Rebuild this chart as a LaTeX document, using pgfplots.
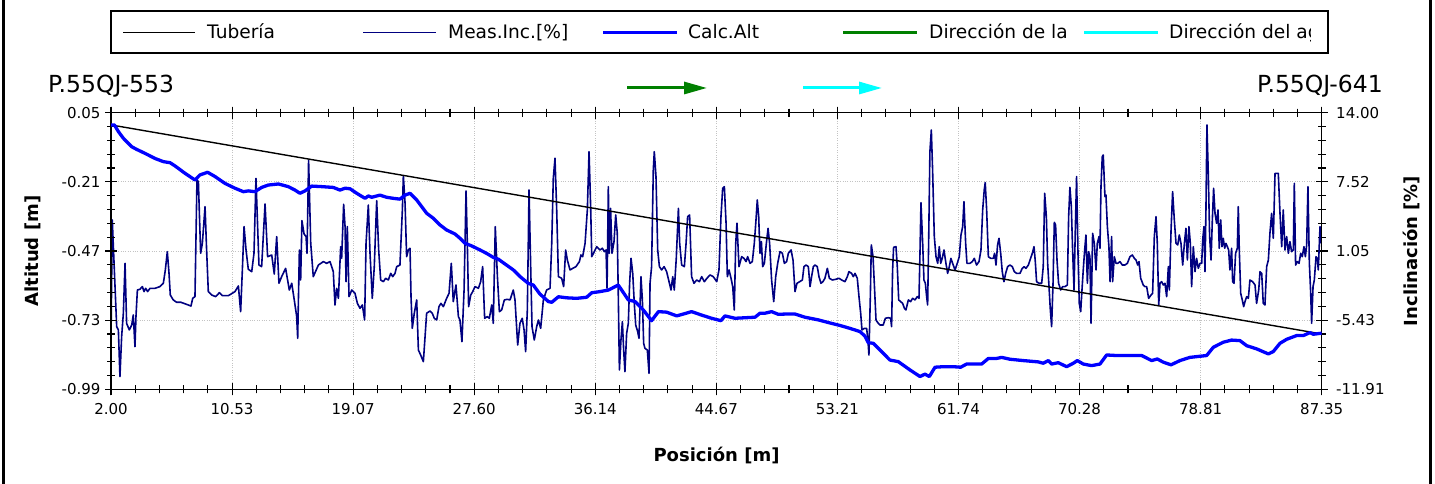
\documentclass[border=0pt]{standalone}
\usepackage{fontspec}
\setmainfont{DejaVu Sans}
\usepackage{pgfplots}
\usepackage{pgfplotstable}
\pgfplotsset{compat=1.18}
\usetikzlibrary{arrows.meta}

\definecolor{incnavy}{RGB}{0,0,128}
\definecolor{altblue}{RGB}{0,0,255}
\definecolor{dirgreen}{RGB}{0,128,0}
\definecolor{dircyan}{RGB}{0,255,255}
\definecolor{gridgray}{RGB}{195,195,195}

% measured inclination [%] along the pipe
\pgfplotstableread{
x inc
2.00 -7.29
2.09 3.95
2.40 -6.04
2.52 -6.35
2.63 -10.72
2.75 -6.98
2.87 -4.79
2.99 -0.11
3.10 -5.73
3.29 -6.35
3.46 -5.89
3.57 -4.95
3.69 -7.92
3.76 -5.10
3.86 -2.61
4.04 -2.54
4.21 -2.29
4.33 -2.76
4.44 -2.45
4.58 -2.76
4.75 -2.45
5.10 -2.45
5.45 -2.29
5.69 -1.98
5.83 -0.73
5.97 0.98
6.09 -1.05
6.18 -3.08
6.39 -3.54
6.63 -3.76
6.93 -3.76
7.26 -3.92
7.64 -4.11
7.76 -3.39
7.92 -3.23
8.06 7.70
8.16 7.54
8.32 0.83
8.44 1.76
8.63 5.20
8.74 1.14
8.86 -2.76
9.10 -3.08
9.38 -3.23
9.64 -2.86
9.85 -3.14
10.27 -3.14
10.74 -2.76
10.98 -2.23
11.14 -4.64
11.26 -0.73
11.38 3.33
11.52 1.14
11.68 -0.67
11.92 -0.89
12.08 0.83
12.22 7.85
12.43 -0.27
12.62 -0.42
12.86 5.45
13.04 0.51
13.33 0.67
13.51 -1.11
13.68 2.39
13.84 -1.98
14.03 -1.36
14.31 -0.58
14.57 -2.61
14.74 -1.98
14.92 -3.54
15.09 -5.10
15.16 -7.13
15.28 1.14
15.37 -1.67
15.46 3.89
15.61 2.64
15.75 2.39
15.82 0.83
15.93 9.57
16.08 1.76
16.26 -1.36
16.62 -0.27
16.97 0.05
17.20 -0.11
17.44 0.05
17.67 -0.89
17.79 -4.01
17.91 -2.45
18.03 -3.39
18.19 1.45
18.26 0.36
18.40 5.42
18.50 3.33
18.57 -1.83
18.66 3.33
18.78 -3.23
18.97 -2.61
19.20 -2.92
19.37 -3.86
19.55 -4.32
19.72 -4.01
19.88 -5.42
19.98 1.76
20.14 5.35
20.26 0.83
20.42 -3.39
20.56 -0.42
20.73 5.76
20.87 1.14
21.01 -1.67
21.20 -1.83
21.36 -1.51
21.55 -1.67
21.72 -1.05
21.86 -1.36
22.02 -1.05
22.14 -0.42
22.37 -0.27
22.54 4.89
22.61 8.10
22.73 5.51
22.84 0.51
22.96 1.14
23.08 1.30
23.15 -3.23
23.24 -6.20
23.38 -4.79
23.55 -3.54
23.67 -8.23
23.83 -8.70
24.02 -9.32
24.14 -6.98
24.25 -4.79
24.49 -4.57
24.65 -4.79
24.79 -5.26
24.96 -5.42
25.12 -4.17
25.26 -3.86
25.43 -4.17
25.66 -3.39
25.83 -2.92
25.99 -0.11
26.13 -3.70
26.32 -2.14
26.49 -5.10
26.60 -5.42
26.74 -7.45
26.89 -2.61
27.03 6.67
27.12 1.76
27.21 -4.17
27.36 -3.08
27.50 -2.76
27.66 -2.29
27.90 -2.45
28.06 -1.83
28.20 -0.42
28.34 -5.26
28.53 -5.10
28.67 -5.26
28.84 -4.01
28.95 -5.73
29.09 3.33
29.24 -1.36
29.38 -4.64
29.54 -4.48
29.73 -3.54
29.94 -3.48
30.13 -3.54
30.36 -2.61
30.48 -3.54
30.67 -7.76
30.83 -5.73
30.99 -5.26
31.12 -6.35
31.23 -8.38
31.35 -4.48
31.47 6.76
31.56 1.14
31.68 -6.04
31.84 -7.29
32.01 -6.04
32.13 -5.42
32.29 -6.20
32.48 -3.54
32.71 -2.61
32.95 -2.45
33.07 1.76
33.18 7.85
33.30 9.73
33.42 4.89
33.54 -1.36
33.77 -1.51
33.91 -2.29
34.05 1.14
34.17 0.20
34.36 -0.73
34.55 -0.58
34.78 -0.42
35.02 0.05
35.13 0.67
35.25 0.51
35.42 1.76
35.58 4.89
35.70 10.35
35.82 4.89
35.89 0.51
36.07 0.98
36.24 1.45
36.47 1.14
36.64 1.30
36.78 0.98
36.90 1.14
36.97 -2.45
37.06 7.07
37.13 0.83
37.22 5.04
37.32 0.83
37.46 1.92
37.58 4.42
37.69 2.70
37.76 -2.92
37.84 -10.10
37.95 -7.29
38.05 -5.57
38.14 -8.23
38.23 -10.26
38.35 -6.67
38.47 -5.73
38.56 -1.98
38.66 0.36
38.78 -1.05
38.89 -3.86
38.99 -5.89
39.13 -6.51
39.22 -7.13
39.29 -4.32
39.36 -1.36
39.46 -3.54
39.55 -7.60
39.64 -8.07
39.81 -8.23
39.93 -10.41
40.00 -1.98
40.11 -0.42
40.23 8.63
40.30 10.35
40.42 8.01
40.54 1.14
40.66 -0.42
40.82 -0.73
40.99 -0.42
41.17 -0.89
41.34 -1.83
41.48 -2.61
41.60 -1.36
41.71 -2.61
41.85 0.36
42.00 5.04
42.09 1.76
42.23 -0.27
42.42 -0.42
42.54 1.76
42.65 4.26
42.79 4.42
42.93 -1.36
43.10 -1.98
43.29 -1.67
43.48 -1.83
43.64 -1.36
43.83 -1.83
44.01 -1.51
44.23 -1.20
44.46 -1.36
44.70 -1.83
44.86 -0.73
45.00 4.26
45.12 6.92
45.24 7.07
45.36 3.64
45.45 -1.36
45.57 -0.73
45.71 -1.51
45.83 -2.29
45.94 -4.48
46.04 1.76
46.13 3.64
46.27 -0.42
46.46 0.51
46.62 0.36
46.77 0.05
46.88 0.51
47.05 -0.11
47.21 0.05
47.35 1.76
47.47 3.95
47.56 5.82
47.66 4.26
47.75 0.83
47.85 1.92
47.94 -0.42
48.06 -0.11
48.20 1.76
48.32 3.17
48.43 1.76
48.57 -1.67
48.72 -3.70
48.86 -1.36
49.00 -0.11
49.16 0.98
49.33 0.83
49.47 -0.11
49.63 0.05
49.75 0.83
49.94 1.14
50.08 0.20
50.22 -2.76
50.36 -1.98
50.55 -1.83
50.74 -1.67
50.85 -0.42
51.00 -0.27
51.16 -0.42
51.28 -2.29
51.39 -1.36
51.51 -0.42
51.63 -0.27
51.79 -0.42
51.91 -1.36
52.05 -1.98
52.19 -1.83
52.33 -1.51
52.50 -0.58
52.64 -1.51
52.85 -1.67
53.09 -1.61
53.32 -1.51
53.51 -1.67
53.74 -1.83
53.91 -1.36
54.02 -0.89
54.21 -1.05
54.33 -1.36
54.45 -1.05
54.61 -1.51
54.73 -3.23
54.85 -4.79
54.94 -6.35
55.11 -6.20
55.27 -6.20
55.36 -7.29
55.43 -8.70
55.53 -3.23
55.60 1.61
55.72 0.51
55.81 -1.98
55.93 -5.42
56.09 -5.73
56.21 -5.89
56.44 -5.89
56.59 -5.26
56.80 -5.20
56.96 -5.26
57.03 -6.04
57.10 -0.73
57.17 1.39
57.34 1.45
57.43 -0.42
57.53 -3.54
57.67 -3.70
57.81 -3.86
57.93 -4.32
58.04 -4.48
58.21 -3.54
58.37 -3.70
58.51 -3.39
58.68 -3.54
58.84 -3.23
58.96 -3.39
59.03 0.83
59.10 5.57
59.22 1.76
59.31 -1.67
59.41 -1.98
59.50 -3.23
59.57 -4.01
59.64 1.76
59.73 10.35
59.83 12.38
59.92 8.63
60.04 2.39
60.16 0.51
60.28 -0.11
60.39 1.45
60.49 -0.11
60.60 0.36
60.72 1.14
60.86 -0.11
60.98 -1.05
61.10 -0.42
61.21 0.36
61.33 -0.11
61.50 -0.73
61.66 -0.11
61.80 0.51
61.92 2.54
62.04 3.33
62.13 5.67
62.25 1.76
62.34 -0.11
62.55 -0.11
62.72 0.05
62.86 0.36
63.02 -0.27
63.19 0.05
63.33 1.14
63.45 4.89
63.56 6.76
63.63 7.45
63.73 4.89
63.85 0.51
64.01 0.36
64.20 0.36
64.29 0.83
64.39 -0.27
64.50 1.61
64.60 2.23
64.72 0.83
64.83 -0.89
64.95 -1.83
65.07 -1.05
65.21 -0.42
65.37 -0.27
65.54 -0.42
65.68 -0.89
65.84 -1.05
66.08 -1.05
66.24 -0.58
66.38 -0.42
66.50 -0.58
66.67 -0.27
66.83 0.36
66.95 0.83
67.07 1.45
67.16 0.05
67.25 -1.83
67.42 -1.98
67.61 -1.98
67.72 -0.42
67.82 6.45
67.94 4.26
68.03 -0.11
68.12 -2.14
68.22 -4.48
68.31 -6.04
68.41 -1.98
68.50 3.73
68.59 3.48
68.69 0.20
68.80 -1.98
68.95 -2.61
69.09 -2.29
69.25 -2.29
69.42 -2.14
69.51 4.26
69.60 7.01
69.70 5.20
69.79 1.14
69.89 -2.61
69.98 3.01
70.07 8.01
70.17 0.83
70.26 -3.86
70.36 -4.64
70.45 -2.61
70.54 -0.73
70.64 1.14
70.73 2.54
70.83 -1.98
70.92 0.98
71.01 0.51
71.09 -5.73
71.20 2.70
71.32 1.76
71.44 -0.73
71.53 1.76
71.65 2.39
71.72 1.30
71.79 7.07
71.88 9.88
71.95 10.04
72.07 6.14
72.14 6.29
72.24 3.33
72.35 1.45
72.43 -1.83
72.54 2.39
72.61 -1.83
72.73 0.51
72.85 -0.11
72.97 -0.11
73.13 0.05
73.29 -0.27
73.48 -0.27
73.65 -0.11
73.83 0.51
74.00 0.67
74.14 0.36
74.26 0.20
74.38 -0.27
74.47 0.05
74.59 -1.51
74.77 -2.14
74.89 -2.29
75.01 -2.29
75.15 -3.39
75.32 -3.08
75.43 -2.92
75.55 2.39
75.67 4.26
75.76 1.76
75.86 -4.01
75.95 -1.98
76.07 -1.83
76.18 -2.14
76.30 -1.98
76.42 -3.23
76.54 -0.42
76.61 -2.61
76.73 3.01
76.84 6.60
76.96 3.95
77.08 1.76
77.20 1.61
77.31 2.54
77.43 1.76
77.55 -0.27
77.67 1.76
77.78 3.17
77.88 0.20
77.99 3.33
78.09 1.76
78.18 -2.29
78.30 1.45
78.42 -0.89
78.53 0.36
78.65 -0.58
78.77 -0.11
78.89 -0.11
78.96 2.08
79.05 3.33
79.12 -0.89
79.19 4.89
79.26 12.85
79.36 8.01
79.45 2.39
79.55 0.20
79.64 3.95
79.73 6.92
79.83 4.57
79.94 3.64
80.04 4.89
80.13 1.30
80.23 3.95
80.32 1.45
80.41 2.23
80.51 1.30
80.60 1.76
80.70 1.45
80.79 1.14
80.88 -0.73
81.00 1.30
81.07 -1.83
81.17 -1.98
81.28 0.83
81.40 1.30
81.47 5.20
81.54 1.14
81.64 -2.92
81.75 -3.54
81.85 -4.17
81.94 -3.70
82.06 -3.23
82.18 -3.39
82.29 -1.67
82.48 -1.83
82.65 -2.14
82.76 -3.86
82.91 -2.61
83.00 -0.89
83.12 -1.05
83.23 -3.86
83.35 -4.01
83.47 -0.42
83.59 0.20
83.70 2.70
83.82 4.57
83.94 2.23
84.06 8.32
84.17 8.32
84.29 8.32
84.41 4.57
84.53 1.45
84.64 4.89
84.76 1.14
84.88 2.39
85.00 0.83
85.11 1.92
85.23 0.98
85.35 1.14
85.42 7.38
85.51 -0.27
85.63 0.05
85.75 -0.11
85.87 0.83
85.98 0.51
86.10 1.45
86.20 0.51
86.29 1.61
86.38 7.07
86.48 -0.11
86.57 -2.76
86.64 -5.73
86.74 -2.29
86.83 -1.67
86.95 0.51
87.04 0.36
87.11 -0.73
87.23 3.33
87.32 1.76
}\measinc

% calculated altitude [m]
\pgfplotstableread{
x alt
2.00 0.004
2.24 0.004
2.52 -0.021
2.87 -0.046
3.10 -0.059
3.46 -0.078
3.81 -0.088
4.40 -0.103
5.10 -0.122
5.69 -0.134
6.16 -0.138
6.51 -0.150
7.22 -0.178
7.92 -0.203
8.27 -0.184
8.81 -0.174
9.33 -0.190
10.04 -0.216
10.74 -0.234
11.33 -0.247
11.68 -0.244
12.15 -0.247
12.62 -0.231
13.09 -0.222
13.80 -0.218
14.50 -0.228
14.97 -0.241
15.32 -0.253
15.68 -0.244
16.15 -0.226
16.85 -0.228
17.67 -0.231
18.14 -0.241
18.50 -0.234
18.85 -0.236
19.32 -0.253
19.91 -0.272
20.14 -0.263
20.38 -0.268
20.96 -0.260
21.43 -0.268
21.90 -0.272
22.37 -0.275
22.73 -0.260
23.08 -0.253
23.55 -0.278
23.90 -0.303
24.25 -0.328
24.72 -0.347
25.19 -0.372
25.66 -0.391
26.25 -0.406
26.60 -0.422
26.96 -0.441
27.43 -0.451
28.01 -0.466
28.48 -0.479
28.95 -0.494
29.31 -0.501
29.78 -0.519
30.36 -0.541
30.83 -0.566
31.42 -0.592
31.77 -0.598
32.24 -0.632
32.83 -0.660
33.07 -0.663
33.54 -0.642
34.12 -0.646
34.83 -0.648
35.53 -0.644
35.89 -0.627
36.43 -0.623
37.06 -0.617
37.76 -0.598
38.47 -0.654
38.94 -0.660
39.53 -0.692
40.11 -0.732
40.59 -0.698
41.17 -0.700
41.88 -0.714
42.35 -0.707
42.93 -0.698
43.64 -0.711
44.34 -0.723
45.00 -0.732
45.28 -0.714
45.99 -0.723
46.69 -0.721
47.40 -0.719
47.75 -0.704
48.10 -0.704
48.57 -0.698
49.04 -0.708
49.63 -0.707
50.22 -0.707
50.92 -0.719
51.86 -0.729
52.57 -0.739
53.39 -0.750
54.10 -0.761
54.80 -0.773
55.15 -0.790
55.39 -0.815
55.74 -0.817
56.21 -0.842
56.91 -0.880
57.50 -0.886
58.32 -0.917
59.03 -0.942
59.38 -0.933
59.69 -0.942
60.09 -0.907
60.68 -0.905
61.38 -0.905
61.90 -0.907
62.32 -0.895
63.38 -0.895
63.85 -0.874
64.43 -0.874
64.79 -0.870
65.38 -0.877
66.31 -0.882
67.37 -0.887
67.72 -0.892
68.08 -0.882
68.31 -0.895
68.78 -0.890
69.37 -0.905
69.84 -0.892
70.12 -0.882
70.54 -0.895
71.13 -0.901
71.72 -0.895
72.19 -0.861
72.89 -0.863
73.83 -0.863
74.66 -0.863
75.36 -0.882
75.76 -0.876
76.18 -0.888
76.73 -0.898
77.36 -0.882
78.06 -0.870
79.24 -0.863
79.71 -0.832
80.41 -0.813
81.00 -0.805
81.59 -0.807
82.06 -0.826
82.76 -0.838
83.59 -0.857
83.94 -0.848
84.41 -0.817
84.88 -0.802
85.58 -0.788
86.05 -0.788
86.52 -0.777
86.76 -0.783
87.35 -0.779
}\calcalt

% pipe profile between the two manholes
\pgfplotstableread{
x alt
2.00 0.004
87.35 -0.782
}\tuberia

\pgfplotsset{
  common/.style={
    at={(111bp,94.7bp)}, anchor=south west,
    scale only axis, width=1210.7bp, height=276.6bp,
    xmin=2, xmax=87.35,
    xtick={2,10.535,19.07,27.605,36.14,44.675,53.21,61.745,70.28,78.815,87.35},
    minor x tick num=4, minor y tick num=4,
    tick align=center, major tick length=12bp, minor tick length=8bp,
    tick style={black, line width=1.1bp},
    axis line style={black, line width=1.3bp},
    tick label style={font=\fontsize{15bp}{18bp}\selectfont},
  }
}

\begin{document}
\begin{tikzpicture}[x=1bp,y=1bp]
\useasboundingbox (0,0) rectangle (1435,484);

% inclination axis (right), carries the grid
\begin{axis}[common,
  ymin=-11.91, ymax=14,
  ytick={-11.91,-5.4325,1.045,7.5225,14},
  yticklabels={-11.91,-5.43,1.05,7.52,14.00},
  ytick pos=right, yticklabel pos=right,
  yticklabel style={xshift=5bp},
  xticklabels={},
  grid=major,
  major grid style={gridgray, dotted, line width=0.9bp},
]
\addplot[incnavy, line width=1.6bp, line join=round] table[x=x, y=inc] {\measinc};
\end{axis}

% altitude axis (left)
\begin{axis}[common,
  ymin=-0.99, ymax=0.05,
  ytick={-0.99,-0.73,-0.47,-0.21,0.05},
  yticklabels={-0.99,-0.73,-0.47,-0.21,0.05},
  ytick pos=left,
  yticklabel style={xshift=-1bp},
  xticklabels={2.00,10.53,19.07,27.60,36.14,44.67,53.21,61.74,70.28,78.81,87.35},
  xticklabel style={yshift=-5bp},
]
\addplot[black, line width=1.4bp] table[x=x, y=alt] {\tuberia};
\addplot[altblue, line width=3.3bp, line join=round] table[x=x, y=alt] {\calcalt};
\end{axis}

% axis titles
\node[rotate=90, font=\fontsize{18bp}{21bp}\selectfont\bfseries] at (33,233) {Altitud [m]};
\node[rotate=90, font=\fontsize{18bp}{21bp}\selectfont\bfseries] at (1411,233) {Inclinación [\%]};
\node[font=\fontsize{18bp}{21bp}\selectfont\bfseries] at (716.5,29) {Posición [m]};

% manhole names
\node[anchor=base west, inner sep=0, font=\fontsize{23.5bp}{27bp}\selectfont] at (48,391) {P.55QJ-553};
\node[anchor=base east, inner sep=0, font=\fontsize{23.5bp}{27bp}\selectfont] at (1383,391) {P.55QJ-641};

% flow direction arrows
\draw[dirgreen, line width=3bp, -{Triangle[length=23bp,width=12bp]}] (627,396) -- (707,396);
\draw[dircyan, line width=3bp, -{Triangle[length=23bp,width=12bp]}] (803,396) -- (882,396);

% legend
\begin{scope}[font=\fontsize{18.6bp}{22bp}\selectfont]
\draw[line width=1.5bp] (111,431) rectangle (1328,473);
\draw[black, line width=1.3bp] (123,451.7) -- (195,451.7);
\node[anchor=base west, inner sep=0] at (207,445) {Tubería};
\draw[incnavy, line width=1.3bp] (363,451.7) -- (436,451.7);
\node[anchor=base west, inner sep=0] at (448,445) {Meas.Inc.[\%]};
\draw[altblue, line width=3bp] (603,451.7) -- (677,451.7);
\node[anchor=base west, inner sep=0] at (688,445) {Calc.Alt};
\draw[dirgreen, line width=3bp] (843,451.7) -- (917,451.7);
\node[anchor=base west, inner sep=0] at (929,445) {Dirección de la};
\draw[dircyan, line width=3bp] (1084,451.7) -- (1158,451.7);
\begin{scope}
\clip (1160,432) rectangle (1310,472);
\node[anchor=base west, inner sep=0] at (1169,445) {Dirección del agua};
\end{scope}
\end{scope}

% outer frame
\draw[line width=3bp] (3,-20) rectangle (1430,504);
\end{tikzpicture}
\end{document}
